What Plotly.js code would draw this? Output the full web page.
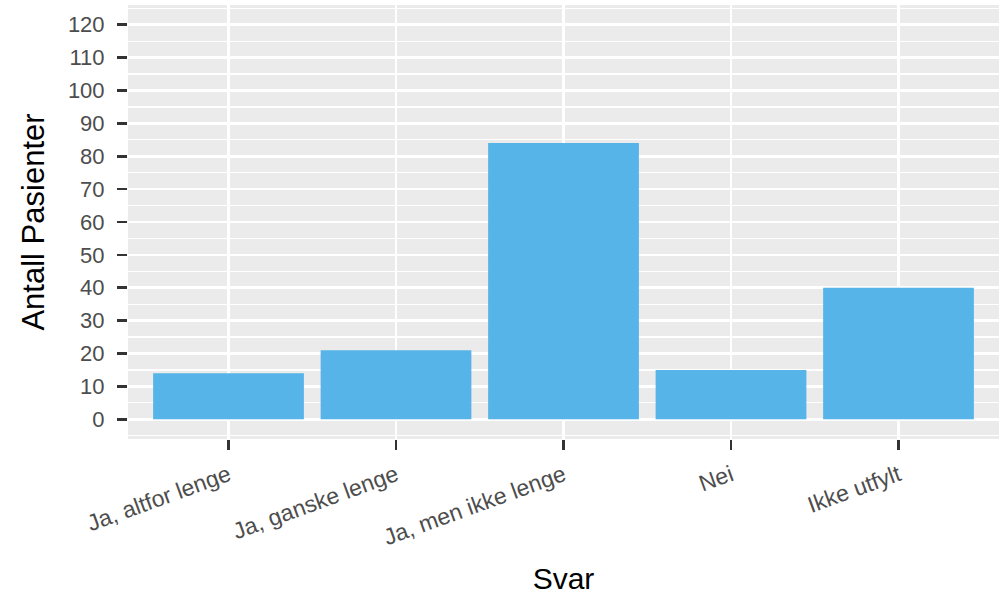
<!DOCTYPE html>
<html>
<head>
<meta charset="utf-8">
<script src="https://cdn.plot.ly/plotly-3.0.1.min.js"></script>
<style>html,body{margin:0;padding:0;background:#fff;}#chart{width:1006px;height:595px;}</style>
</head>
<body>
<div id="chart"></div>
<script>
const categories = ["Ja, altfor lenge", "Ja, ganske lenge", "Ja, men ikke lenge", "Nei", "Ikke utfylt"];
const counts = [14, 21, 84, 15, 40];
const yTickVals = [0, 10, 20, 30, 40, 50, 60, 70, 80, 90, 100, 110, 120];

const FONT = "Liberation Sans, Arial, Helvetica, sans-serif";

const data = [{
  type: "bar",
  x: categories,
  y: counts,
  width: 0.9,
  marker: {color: "#56B4E9", line: {width: 0}},
  hoverinfo: "x+y"
}];

const layout = {
  width: 1006,
  height: 595,
  paper_bgcolor: "#FFFFFF",
  plot_bgcolor: "#EBEBEB",
  margin: {l: 128, r: 7, t: 5, b: 155.5},
  showlegend: false,
  font: {family: FONT},
  xaxis: {
    type: "category",
    range: [-0.6, 4.6],
    showgrid: true,
    gridcolor: "#FFFFFF",
    gridwidth: 2.6,
    zeroline: false,
    showline: false,
    ticks: "outside",
    ticklen: 10,
    tickwidth: 2.6,
    tickcolor: "#333333",
    tickangle: -20,
    ticklabelstandoff: 3,
    tickfont: {family: FONT, size: 23, color: "#4D4D4D"},
    title: {text: "Svar", font: {family: FONT, size: 30, color: "#000000"}, standoff: 26},
    fixedrange: true
  },
  yaxis: {
    range: [-6, 126],
    tickmode: "array",
    tickvals: yTickVals,
    ticktext: yTickVals.map(String),
    showgrid: true,
    gridcolor: "#FFFFFF",
    gridwidth: 2.6,
    zeroline: false,
    showline: false,
    ticks: "outside",
    ticklen: 10,
    tickwidth: 2.6,
    tickcolor: "#333333",
    ticklabelstandoff: 8,
    tickfont: {family: FONT, size: 22, color: "#4D4D4D"},
    minor: {tickmode: "linear", tick0: 5, dtick: 10, showgrid: true, gridcolor: "#FFFFFF", gridwidth: 1.3, ticks: ""},
    title: {text: "Antall Pasienter", font: {family: FONT, size: 31, color: "#000000"}, standoff: 14},
    fixedrange: true
  }
};

Plotly.newPlot("chart", data, layout, {displayModeBar: false, staticPlot: true});
</script>
</body>
</html>
